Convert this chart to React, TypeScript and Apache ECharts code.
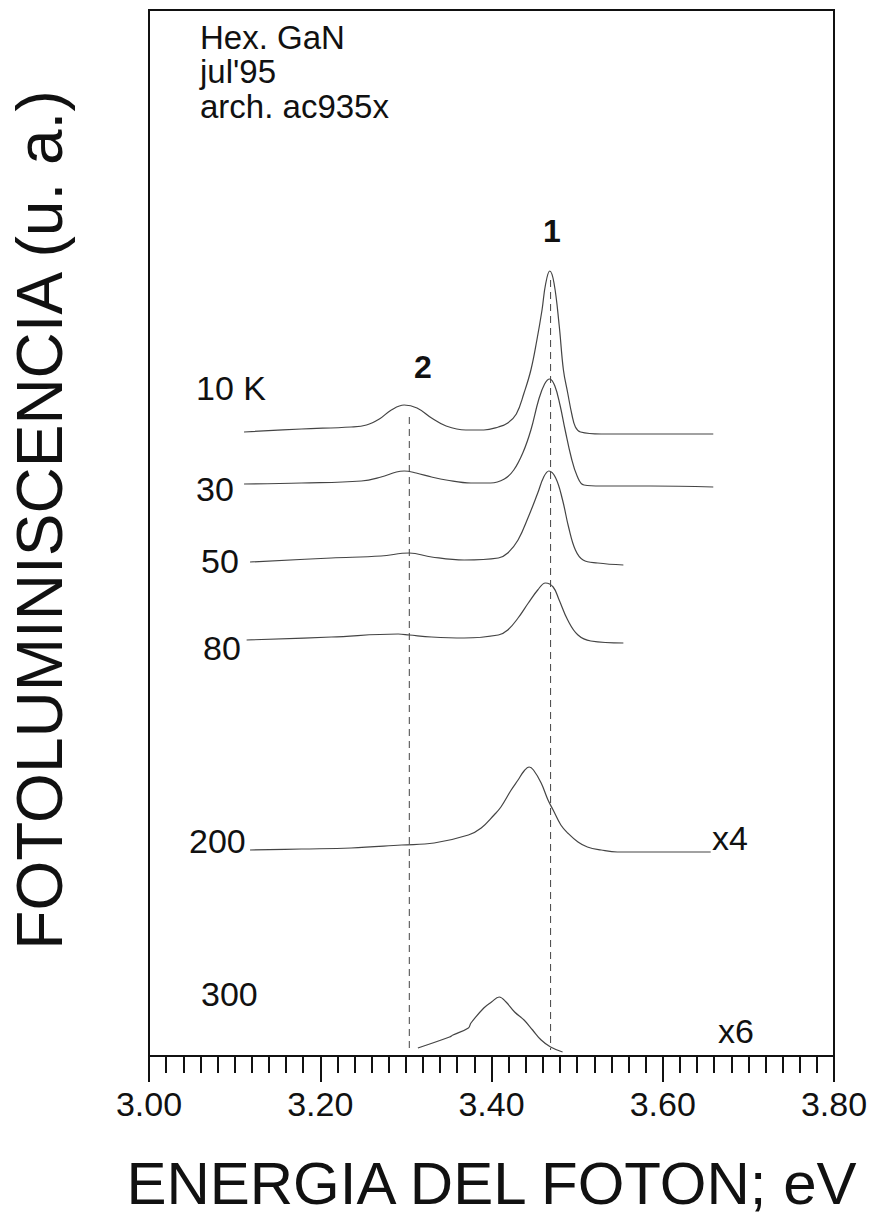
import React, { useEffect, useRef } from "react";
import * as echarts from "echarts";

// Photon energy (eV) vs photoluminescence (arbitrary units, curves stacked with offsets)
const X_MIN = 3.0;
const X_MAX = 3.8;
const X_STEP = 0.2;

const PEAK_1_E = 3.469;
const PEAK_2_E = 3.304;

const CURVE_10K: [number, number][] = [
  [3.111, 62.4], [3.178, 62.7], [3.236, 62.9], [3.254, 63.1], [3.269, 63.7], [3.283, 64.6],
  [3.298, 65.1], [3.313, 64.8], [3.330, 63.8], [3.347, 63.0], [3.370, 62.6], [3.391, 62.6],
  [3.408, 62.9], [3.419, 63.3], [3.429, 64.2], [3.438, 66.3], [3.446, 68.6], [3.453, 71.6],
  [3.459, 74.6], [3.463, 77.1], [3.468, 78.5], [3.473, 77.3], [3.479, 73.1], [3.484, 68.6],
  [3.489, 66.3], [3.494, 64.1], [3.498, 62.9], [3.504, 62.4], [3.528, 62.2], [3.586, 62.2],
  [3.659, 62.2],
];

const CURVE_30K: [number, number][] = [
  [3.111, 57.2], [3.178, 57.3], [3.248, 57.5], [3.271, 57.9], [3.289, 58.4], [3.298, 58.5],
  [3.312, 58.3], [3.330, 57.9], [3.347, 57.6], [3.376, 57.3], [3.399, 57.3], [3.415, 57.7],
  [3.426, 58.6], [3.437, 60.4], [3.446, 62.6], [3.455, 65.6], [3.462, 67.2], [3.468, 67.7],
  [3.474, 67.0], [3.480, 65.1], [3.486, 62.6], [3.493, 59.9], [3.500, 58.0], [3.508, 57.1],
  [3.528, 57.0], [3.586, 57.0], [3.659, 56.9],
];

const CURVE_50K: [number, number][] = [
  [3.118, 49.4], [3.213, 49.8], [3.271, 50.0], [3.304, 50.3], [3.330, 49.9], [3.368, 49.6],
  [3.408, 49.8], [3.419, 50.3], [3.431, 51.6], [3.443, 53.9], [3.454, 56.3], [3.461, 57.9],
  [3.467, 58.5], [3.475, 57.8], [3.483, 55.6], [3.490, 52.9], [3.498, 50.6], [3.507, 49.6],
  [3.524, 49.3], [3.554, 49.1],
];

const CURVE_80K: [number, number][] = [
  [3.114, 41.6], [3.213, 41.9], [3.291, 42.2], [3.304, 42.1], [3.330, 41.9], [3.368, 41.8],
  [3.408, 42.1], [3.419, 42.6], [3.431, 43.8], [3.443, 45.3], [3.454, 46.6], [3.463, 47.3],
  [3.472, 46.9], [3.479, 45.6], [3.489, 43.6], [3.501, 42.1], [3.516, 41.5], [3.554, 41.3],
];

const CURVE_200K: [number, number][] = [
  [3.118, 20.6], [3.178, 20.7], [3.236, 20.8], [3.295, 21.1], [3.333, 21.3], [3.373, 22.1],
  [3.388, 22.8], [3.403, 24.1], [3.411, 24.9], [3.423, 26.6], [3.431, 27.6], [3.438, 28.5],
  [3.444, 28.9], [3.449, 28.6], [3.458, 27.3], [3.466, 25.6], [3.472, 24.6], [3.481, 23.1],
  [3.489, 22.3], [3.501, 21.4], [3.512, 20.9], [3.528, 20.6], [3.547, 20.4], [3.586, 20.4],
  [3.656, 20.4],
];

const CURVE_300K: [number, number][] = [
  [3.314, 0.8], [3.351, 1.9], [3.355, 2.1], [3.373, 2.8], [3.376, 3.3], [3.391, 4.8],
  [3.400, 5.4], [3.409, 5.9], [3.417, 5.4], [3.427, 4.4], [3.438, 3.6], [3.448, 2.6],
  [3.458, 1.6], [3.469, 0.9], [3.483, 0.4],
];

const DASH_1: [number, number][] = [[PEAK_1_E, 77.6], [PEAK_1_E, 0.6]];
const DASH_2: [number, number][] = [[PEAK_2_E, 63.9], [PEAK_2_E, 0.6]];

const FONT = "'Liberation Sans', Arial, Helvetica, sans-serif";
const CURVE_COLOR = "#444";

export default function App() {
  const ref = useRef<HTMLDivElement>(null);

  useEffect(() => {
    if (!ref.current) return;
    const chart = echarts.init(ref.current, undefined, { renderer: "svg" });

    const curve = (name: string, data: [number, number][]) => ({
      name,
      type: "line",
      data,
      showSymbol: false,
      smooth: 0.4,
      lineStyle: { color: CURVE_COLOR, width: 1.2 },
      silent: true,
      z: 3,
    });
    const dash = (name: string, data: [number, number][]) => ({
      name,
      type: "line",
      data,
      showSymbol: false,
      lineStyle: { color: "#444", width: 1, type: [7, 5] },
      silent: true,
      z: 2,
    });

    const txt = (text: string, x: number, y: number, opts: any = {}) => ({
      type: "text",
      x,
      y,
      style: {
        text,
        font: `${opts.weight || "normal"} ${opts.size || 34}px ${FONT}`,
        fill: "#111",
        textAlign: opts.align || "left",
        textVerticalAlign: "middle",
      },
    });

    chart.setOption({
      animation: false,
      backgroundColor: "#ffffff",
      grid: {
        left: 147,
        top: 10,
        right: 39,
        bottom: 164,
        show: true,
        borderColor: "#111",
        borderWidth: 2,
        backgroundColor: "transparent",
      },
      xAxis: {
        type: "value",
        min: X_MIN,
        max: X_MAX,
        interval: X_STEP,
        name: "ENERGIA DEL FOTON; eV",
        nameLocation: "middle",
        nameGap: 97,
        nameTextStyle: { fontFamily: FONT, fontSize: 60, color: "#111" },
        axisLine: { show: true, lineStyle: { color: "#111", width: 2 } },
        axisTick: { show: true, inside: false, length: 26, lineStyle: { color: "#111", width: 2 } },
        minorTick: { show: true, splitNumber: 10, length: 17, lineStyle: { color: "#111", width: 2 } },
        splitLine: { show: false },
        minorSplitLine: { show: false },
        axisLabel: {
          show: true,
          margin: 31,
          fontFamily: FONT,
          fontSize: 34,
          color: "#111",
          showMinLabel: true,
          showMaxLabel: true,
          formatter: (v: number) => v.toFixed(2),
        },
      },
      yAxis: {
        type: "value",
        min: 0,
        max: 104.6,
        name: "FOTOLUMINISCENCIA (u. a.)",
        nameLocation: "middle",
        nameRotate: 90,
        nameGap: 77,
        nameTextStyle: { fontFamily: FONT, fontSize: 64, color: "#111", padding: [0, 0, 0, 26] },
        axisLine: { show: false },
        axisTick: { show: false },
        axisLabel: { show: false },
        splitLine: { show: false },
      },
      series: [
        dash("Pico 1", DASH_1),
        dash("Pico 2", DASH_2),
        curve("10 K", CURVE_10K),
        curve("30 K", CURVE_30K),
        curve("50 K", CURVE_50K),
        curve("80 K", CURVE_80K),
        curve("200 K", CURVE_200K),
        curve("300 K", CURVE_300K),
      ],
      graphic: [
        txt("Hex. GaN", 200, 37, { size: 33 }),
        txt("jul'95", 200, 71, { size: 33 }),
        txt("arch. ac935x", 200, 106, { size: 33 }),
        txt("1", 552, 231, { size: 32, weight: "bold", align: "center" }),
        txt("2", 423, 367, { size: 32, weight: "bold", align: "center" }),
        txt("10 K", 196, 388),
        txt("30", 196, 489),
        txt("50", 201, 561),
        txt("80", 203, 648),
        txt("200", 189, 841),
        txt("300", 201, 994),
        txt("x4", 712, 838),
        txt("x6", 718, 1031),
      ],
    });

    return () => chart.dispose();
  }, []);

  return (
    <div
      ref={ref}
      style={{ position: "fixed", left: 0, top: 0, width: 873, height: 1220, background: "#fff" }}
    />
  );
}
